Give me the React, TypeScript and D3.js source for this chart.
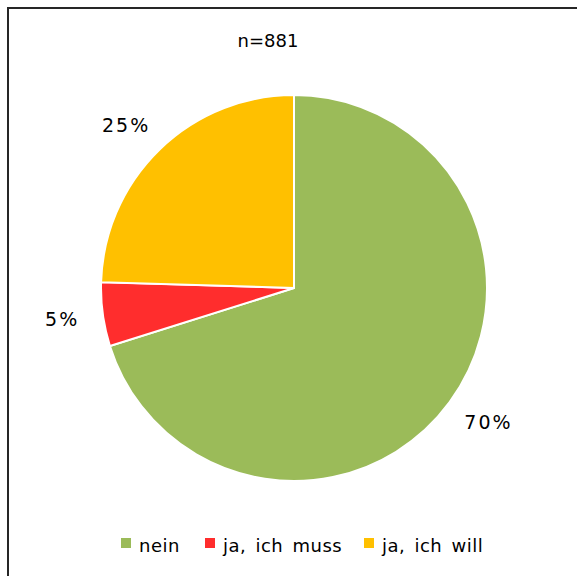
import { useRef, useEffect } from 'react';
import * as d3 from 'd3';

const categories = ["nein", "ja, ich muss", "ja, ich will"];
const counts = [618, 47, 216];
const colors = ["#9BBB59", "#FF2D2D", "#FFC000"];
const subtitle = "n=881";

const App = () => {
  const ref = useRef(null);

  useEffect(() => {
    d3.select(ref.current).selectAll("*").remove();

    const width = 577;
    const height = 576;
    const cx = 294;
    const cy = 288;
    const radius = 193;
    const labelRadius = 217;
    const font = "'DejaVu Sans', sans-serif";

    const svg = d3.select(ref.current)
      .attr("width", width)
      .attr("height", height);

    svg.append("rect")
      .attr("width", width)
      .attr("height", height)
      .attr("fill", "#fff");

    // chart frame (cropped on the right and bottom)
    svg.append("path")
      .attr("d", `M8,${height + 2} L8,8 L${width + 2},8`)
      .attr("fill", "none")
      .attr("stroke", "#262626")
      .attr("stroke-width", 2);

    svg.append("text")
      .attr("x", 268)
      .attr("y", 47)
      .attr("text-anchor", "middle")
      .attr("font-family", font)
      .attr("font-size", 18)
      .attr("fill", "#000")
      .text(subtitle);

    const total = d3.sum(counts);
    const pie = d3.pie().sort(null).value(d => d);
    const arcs = pie(counts);

    const arc = d3.arc().innerRadius(0).outerRadius(radius);

    const g = svg.append("g").attr("transform", `translate(${cx},${cy})`);

    g.selectAll("path")
      .data(arcs)
      .join("path")
      .attr("d", arc)
      .attr("fill", (d, i) => colors[i])
      .attr("stroke", "#fff")
      .attr("stroke-width", 2);

    // labels sit just outside the pie, pushed out by half their box
    g.selectAll("text")
      .data(arcs)
      .join("text")
      .attr("text-anchor", "middle")
      .attr("dy", "0.35em")
      .attr("font-family", font)
      .attr("font-size", 19)
      .attr("letter-spacing", 2)
      .attr("fill", "#000")
      .text(d => `${Math.round(d.value / total * 100)}%`)
      .each(function (d) {
        const a = (d.startAngle + d.endAngle) / 2;
        const w = this.getComputedTextLength();
        const x = Math.sin(a) * labelRadius + Math.sin(a) * w / 2;
        const y = -Math.cos(a) * labelRadius - Math.cos(a) * 10;
        d3.select(this).attr("transform", `translate(${x},${y})`);
      });

    // legend
    const legendX = [121, 205, 364];
    const legend = svg.append("g");
    categories.forEach((c, i) => {
      legend.append("rect")
        .attr("x", legendX[i])
        .attr("y", 538)
        .attr("width", 10)
        .attr("height", 10)
        .attr("fill", colors[i]);
      legend.append("text")
        .attr("x", legendX[i] + 18)
        .attr("y", 552)
        .attr("font-family", font)
        .attr("font-size", 18)
        .attr("letter-spacing", 0.5)
        .attr("word-spacing", 3)
        .attr("fill", "#000")
        .text(c);
    });
  }, []);

  return (
    <div style={{ position: "absolute", left: 0, top: 0 }}>
      <svg ref={ref} style={{ display: "block" }} />
    </div>
  );
};

export default App;
